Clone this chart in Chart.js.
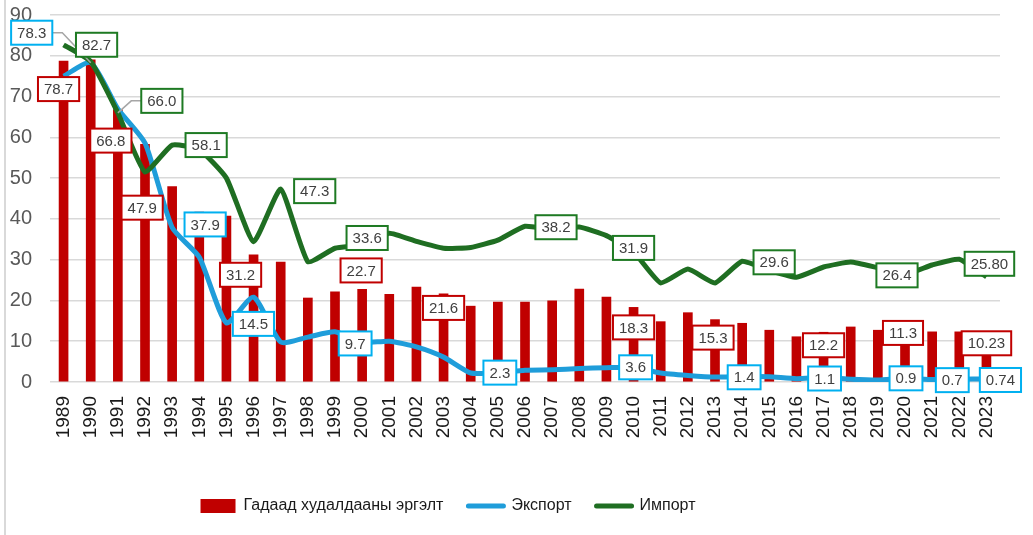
<html>

<head>
    <title>Gadaad khudaldaa</title>
    <script src="https://cdn.jsdelivr.net/npm/chart.js@4.4.0/dist/chart.umd.min.js"></script>
    <style>
        body { margin: 0; background: #fff; }
    </style>
</head>

<body>
    <canvas id="tradeChart" width="1033" height="535"></canvas>
    <script>
        var years = ["1989", "1990", "1991", "1992", "1993", "1994", "1995", "1996", "1997", "1998",
            "1999", "2000", "2001", "2002", "2003", "2004", "2005", "2006", "2007", "2008",
            "2009", "2010", "2011", "2012", "2013", "2014", "2015", "2016", "2017", "2018",
            "2019", "2020", "2021", "2022", "2023"];
        var trade = [78.7, 79.0, 66.8, 58.3, 47.9, 41.7, 40.7, 31.2, 29.4, 20.6,
            22.1, 22.7, 21.5, 23.3, 21.6, 18.6, 19.6, 19.6, 19.9, 22.8,
            20.8, 18.3, 14.8, 17.0, 15.3, 14.4, 12.7, 11.1, 12.2, 13.5,
            12.7, 11.3, 12.3, 12.3, 10.23];
        var exportVals = [75.0, 78.3, 67.0, 58.6, 37.9, 30.6, 14.5, 20.8, 9.8, 11.0,
            12.3, 9.7, 10.0, 8.6, 6.1, 2.2, 2.3, 2.9, 3.0, 3.3,
            3.5, 3.6, 2.2, 1.6, 1.2, 1.4, 1.3, 0.8, 1.1, 0.7,
            0.5, 0.9, 0.6, 0.7, 0.74];
        var importVals = [82.7, 78.6, 66.0, 51.5, 58.1, 57.0, 50.0, 34.4, 47.3, 29.5,
            32.8, 33.6, 36.5, 34.5, 32.8, 33.0, 34.8, 38.2, 37.4, 38.0,
            35.9, 31.9, 24.3, 27.7, 24.3, 29.6, 27.4, 25.7, 28.2, 29.4,
            28.0, 26.4, 28.7, 30.1, 25.8];
        var yTicks = [0, 10, 20, 30, 40, 50, 60, 70, 80, 90];

        // which points get a value box, and where the box sits relative to the point (px)
        var tradeLabels = [
            { i: 0, dx: -5, dy: 28 }, { i: 2, dx: -7, dy: 31 }, { i: 4, dx: -30, dy: 21 },
            { i: 7, dx: -13, dy: 20 }, { i: 11, dx: -1, dy: -19 }, { i: 14, dx: 0, dy: 14 },
            { i: 21, dx: 0, dy: 20 }, { i: 24, dx: -2, dy: 18 }, { i: 28, dx: 0, dy: 13 },
            { i: 31, dx: -2, dy: -3 }, { i: 34, dx: 0, dy: 3, d: 2 }
        ];
        var exportLabels = [
            { i: 1, dx: -59, dy: -30, leader: "right" }, { i: 4, dx: 33, dy: -3 }, { i: 6, dx: 27, dy: 1 },
            { i: 11, dx: -7, dy: 1 }, { i: 16, dx: 2, dy: 0 }, { i: 21, dx: 2, dy: 0 },
            { i: 25, dx: 2, dy: 1 }, { i: 28, dx: 1, dy: 1 }, { i: 31, dx: 1, dy: 0 },
            { i: 33, dx: -7, dy: 1 }, { i: 34, dx: 14, dy: 1, d: 2 }
        ];
        var importLabels = [
            { i: 0, dx: 33, dy: 0 }, { i: 2, dx: 44, dy: -12, leader: "left" }, { i: 4, dx: 34, dy: 0 },
            { i: 8, dx: 34, dy: 2 }, { i: 11, dx: 5, dy: -7 }, { i: 17, dx: 31, dy: 1 },
            { i: 21, dx: 0, dy: -4 }, { i: 25, dx: 32, dy: 1 }, { i: 31, dx: -8, dy: 1 },
            { i: 34, dx: 3, dy: -13, d: 2 }
        ];

        var RED = "#C00000";
        var BLUE = "#1F9DDA";
        var GREEN = "#1F6E22";
        var FONT = "'Liberation Sans', Arial, sans-serif";

        var valueBoxes = {
            id: "valueBoxes",
            afterDatasetsDraw: function (chart) {
                var ctx = chart.ctx;
                var sets = [
                    { idx: 0, list: tradeLabels, color: "#C00000", vals: trade },
                    { idx: 1, list: exportLabels, color: "#00B0F0", vals: exportVals },
                    { idx: 2, list: importLabels, color: "#1E7A23", vals: importVals }
                ];
                ctx.save();
                ctx.font = "15px " + FONT;
                ctx.textAlign = "center";
                ctx.textBaseline = "middle";
                sets.forEach(function (s) {
                    var meta = chart.getDatasetMeta(s.idx);
                    s.list.forEach(function (l) {
                        var el = meta.data[l.i];
                        var txt = s.vals[l.i].toFixed(l.d || 1);
                        var w = ctx.measureText(txt).width + 12;
                        var h = 24;
                        var cx = el.x + l.dx, cy = el.y + l.dy;
                        if (l.leader) {
                            ctx.strokeStyle = "#A6A6A6";
                            ctx.lineWidth = 1.5;
                            ctx.beginPath();
                            var sx = l.leader === "right" ? cx + w / 2 : cx - w / 2;
                            var kx = l.leader === "right" ? sx + 10 : sx - 10;
                            ctx.moveTo(sx, cy);
                            ctx.lineTo(kx, cy);
                            ctx.lineTo(el.x, el.y);
                            ctx.stroke();
                        }
                        ctx.fillStyle = "#fff";
                        ctx.fillRect(cx - w / 2, cy - h / 2, w, h);
                        ctx.strokeStyle = s.color;
                        ctx.lineWidth = 2;
                        ctx.strokeRect(cx - w / 2, cy - h / 2, w, h);
                        ctx.fillStyle = "#404040";
                        ctx.fillText(txt, cx, cy + 1);
                    });
                });
                ctx.restore();
            }
        };

        var frameLine = {
            id: "frameLine",
            // legend in the original sits left of centre
            afterLayout: function (chart) {
                chart.legend.left -= 52;
                chart.legend.right -= 52;
            },
            beforeDraw: function (chart) {
                var ctx = chart.ctx;
                ctx.save();
                ctx.strokeStyle = "#D9D9D9";
                ctx.lineWidth = 2;
                ctx.beginPath();
                ctx.moveTo(5, 0);
                ctx.lineTo(5, chart.height);
                ctx.stroke();
                ctx.restore();
            }
        };

        var ctx1 = document.getElementById("tradeChart");
        var tradeChart = new Chart(ctx1, {
            type: "bar",
            data: {
                labels: years,
                datasets: [{
                    type: "bar",
                    label: "Гадаад худалдааны эргэлт",
                    data: trade,
                    backgroundColor: RED,
                    barThickness: 9,
                    order: 3
                }, {
                    type: "line",
                    label: "Экспорт",
                    data: exportVals,
                    borderColor: BLUE,
                    backgroundColor: BLUE,
                    borderWidth: 5,
                    pointRadius: 0,
                    tension: 0.2,
                    borderJoinStyle: "round",
                    order: 2
                }, {
                    type: "line",
                    label: "Импорт",
                    data: importVals,
                    borderColor: GREEN,
                    backgroundColor: GREEN,
                    borderWidth: 5,
                    pointRadius: 0,
                    tension: 0.15,
                    borderJoinStyle: "round",
                    order: 1
                }]
            },
            options: {
                responsive: false,
                animation: false,
                devicePixelRatio: 1,
                layout: { padding: { top: 15, right: 33, left: 0, bottom: 11 } },
                scales: {
                    x: {
                        grid: { display: false, drawTicks: false },
                        border: { display: false },
                        ticks: {
                            color: "#1a1a1a",
                            font: { family: FONT, size: 19 },
                            minRotation: 90,
                            maxRotation: 90,
                            autoSkip: false,
                            padding: 14
                        },
                        afterFit: function (scale) { scale.height = 91; }
                    },
                    y: {
                        min: 0,
                        max: 90,
                        afterBuildTicks: function (scale) {
                            scale.ticks = yTicks.map(function (v) { return { value: v }; });
                        },
                        grid: { color: "#D9D9D9", lineWidth: 1.5, drawTicks: false },
                        border: { display: false },
                        ticks: {
                            color: "#595959",
                            font: { family: FONT, size: 20 },
                            padding: 18
                        },
                        afterFit: function (scale) {
                            scale.width = 50;
                            scale.paddingTop = 0;
                            scale.paddingBottom = 0;
                        }
                    }
                },
                plugins: {
                    tooltip: { enabled: false },
                    legend: {
                        position: "bottom",
                        labels: {
                            color: "#1a1a1a",
                            font: { family: FONT, size: 16 },
                            usePointStyle: true,
                            pointStyleWidth: 35,
                            boxHeight: 14,
                            padding: 25,
                            generateLabels: function (chart) {
                                return chart.data.datasets.map(function (ds, i) {
                                    return {
                                        text: ds.label,
                                        fillStyle: ds.backgroundColor,
                                        strokeStyle: ds.backgroundColor,
                                        lineWidth: ds.type === "bar" ? 0 : 5,
                                        lineCap: "round",
                                        pointStyle: ds.type === "bar" ? "rect" : "line",
                                        fontColor: "#1a1a1a",
                                        datasetIndex: i
                                    };
                                });
                            }
                        }
                    }
                }
            },
            plugins: [frameLine, valueBoxes]
        });
    </script>
</body>

</html>
